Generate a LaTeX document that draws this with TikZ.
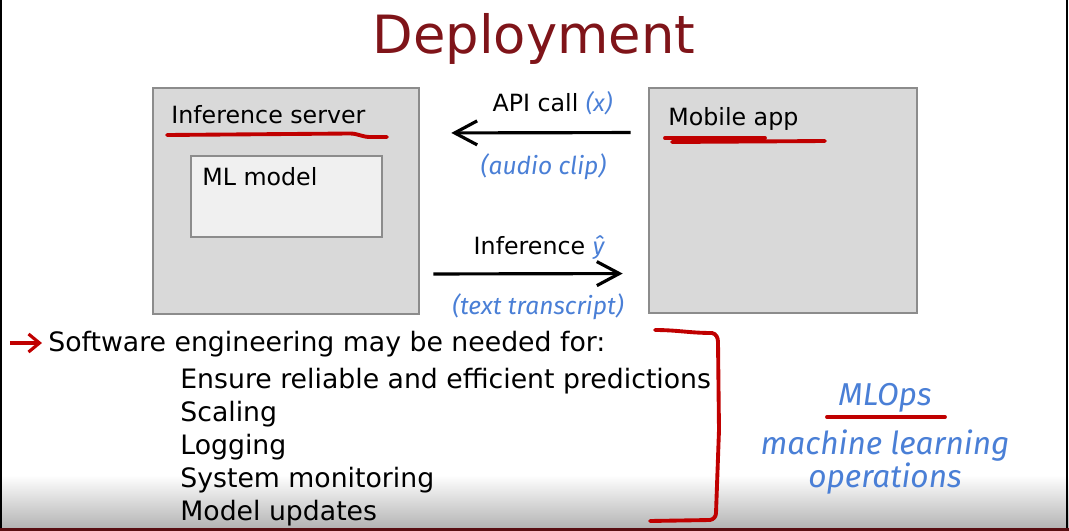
\documentclass[tikz,border=0pt]{standalone}
\usepackage{fontspec}
\setmainfont{DejaVu Sans}
\newfontfamily\handfont{Fira Sans}
\usetikzlibrary{arrows.meta,positioning}
\definecolor{slidered}{HTML}{7F1419}
\definecolor{penred}{HTML}{C00000}
\definecolor{penblue}{HTML}{4A7FD6}
\definecolor{boxgray}{HTML}{D9D9D9}
\definecolor{boxline}{HTML}{8C8C8C}
\definecolor{innergray}{HTML}{F0F0F0}

\begin{document}
\begin{tikzpicture}[
  panel/.style={draw=boxline,line width=1.5pt,fill=boxgray,inner sep=0pt},
  boxtitle/.style={anchor=base west,inner sep=0pt,font=\fontsize{13.5}{16}\selectfont},
  pen/.style={draw=penred,line width=2.2pt,line cap=round},
  hand/.style={text=penblue,font=\handfont\itshape\fontsize{14}{17}\selectfont},
  bighand/.style={hand,font=\handfont\itshape\fontsize{18}{22}\selectfont},
  flow/.style={line width=1.8pt,-{Straight Barb[length=4.5mm,width=4.8mm]}},
  item/.style={anchor=base west,inner sep=0pt,font=\fontsize{15.2}{19}\selectfont},
]
\useasboundingbox (0,0) rectangle (21.38,-10.62);
\shade[top color=white,bottom color=black!30] (0,-9.5) rectangle (21.38,-10.58);
\draw[line width=1.2pt] (0.02,0) -- (0.02,-10.58);
\draw[line width=1.2pt] (21.34,0) -- (21.34,-10.58);
\fill[slidered!70!black] (0,-10.56) rectangle (21.38,-10.62);

\node[anchor=base,inner sep=0pt,text=slidered,font=\fontsize{30}{36}\selectfont] (title) at (10.68,-1.06) {Deployment};

\node[panel,minimum width=5.32cm,minimum height=4.52cm] (server) at (5.72,-4.02) {};
\node[boxtitle] (servertitle) at (3.42,-2.46) {Inference server};
\node[panel,fill=innergray,minimum width=3.82cm,minimum height=1.62cm] (model) at (5.73,-3.93) {};
\node[boxtitle] (modeltitle) at (4.04,-3.70) {ML model};
\node[panel,minimum width=5.36cm,minimum height=4.5cm] (mobile) at (15.66,-4.01) {};
\node[boxtitle] (mobiletitle) at (13.36,-2.50) {Mobile app};

\draw[pen] (3.34,-2.70) -- (7.0,-2.67) to[out=0,in=180] (7.4,-2.74) -- (7.74,-2.74);
\draw[pen] (13.3,-2.76) -- (15.3,-2.76);
\draw[pen] (13.44,-2.84) -- (16.5,-2.82);

\draw[flow,shorten <=0.34cm,shorten >=0.62cm] ([yshift=1.36cm]mobile.west) -- ([yshift=1.36cm]server.east);
\draw[flow,shorten <=0.26cm,shorten >=0.5cm] ([yshift=-1.46cm]server.east) -- ([yshift=-1.46cm]mobile.west);
\node[font=\fontsize{13.5}{16}\selectfont] (apicall) at (11.05,-2.06) {API call {\handfont\itshape\color{penblue}(x)}};
\node[hand] (audio) at (10.87,-3.34) {(audio clip)};
\node[font=\fontsize{13.5}{16}\selectfont] (inference) at (10.78,-4.96) {Inference {\handfont\itshape\color{penblue}ŷ}};
\node[hand] (transcript) at (10.76,-6.14) {(text transcript)};

\coordinate (bulletstart) at (0.2,-6.86);
\node[item] (intro) at (0.96,-7.02) {Software engineering may be needed for:};
\draw[draw=penred,line width=1.8pt,shorten >=0.12cm,-{Straight Barb[length=2.2mm,width=3.6mm]}] (bulletstart) -- (bulletstart -| intro.west);
\node[item] (ensure) at (3.6,-7.76) {Ensure reliable and efficient predictions};
\node[item] (scaling) at (3.6,-8.42) {Scaling};
\node[item] (logging) at (3.6,-9.08) {Logging};
\node[item] (monitoring) at (3.6,-9.74) {System monitoring};
\node[item] (updates) at (3.6,-10.40) {Model updates};

\draw[pen] (13.1,-6.6) to[out=0,in=180] (14.24,-6.66) to[out=-10,in=90] (14.36,-6.84) -- (14.38,-8.6) -- (14.32,-10.26) to[out=-90,in=10] (14.2,-10.4) -- (13.0,-10.42);

\node[bighand] (mlops) at (17.7,-7.96) {MLOps};
\draw[pen] (16.54,-8.34) -- (18.9,-8.34);
\node[bighand] (mlname) at (17.7,-8.92) {machine learning};
\node[bighand] (mlops2) at (17.7,-9.58) {operations};
\end{tikzpicture}
\end{document}
